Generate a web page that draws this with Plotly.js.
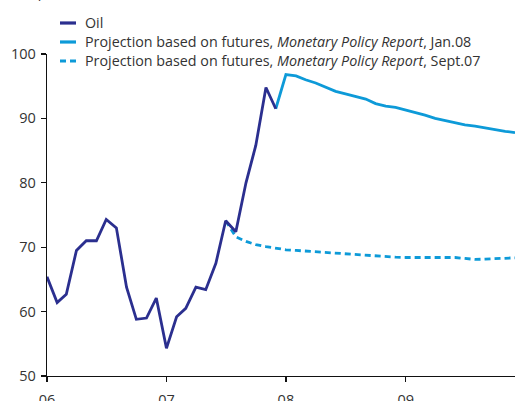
<!DOCTYPE html>
<html>
<head>
<meta charset="utf-8">
<script src="https://cdn.plot.ly/plotly-3.0.1.min.js"></script>
<style>html,body{margin:0;padding:0;background:#fff;}#chart{width:520px;height:401px;}</style>
</head>
<body>
<div id="chart"></div>
<script>
// Monthly values, US dollars per barrel
var oilStart = '2006-01';
var oil = [65.4, 61.4, 62.7, 69.5, 71.0, 71.0, 74.3, 73.0, 63.8, 58.8, 59.0, 62.1,
           54.3, 59.2, 60.5, 63.8, 63.4, 67.5, 74.1, 72.4, 80.0, 85.8, 94.8, 91.5];

var projJanStart = '2007-12';
var projJan = [91.5, 96.8, 96.6, 96.0, 95.5, 94.8, 94.2, 93.8, 93.4, 93.0, 92.3, 91.9, 91.7,
               91.3, 90.9, 90.5, 90.0, 89.65, 89.4, 89.0, 88.8, 88.5, 88.2, 88.0, 87.8];

var projSepStart = '2007-07';
var projSep = [74.1, 71.6, 70.9, 70.4, 70.1, 69.8, 69.6, 69.5, 69.4, 69.25, 69.1, 69.0,
               68.9, 68.8, 68.7, 68.6, 68.5, 68.45, 68.4, 68.4, 68.45, 68.5, 68.5, 68.4,
               68.25, 68.1, 68.15, 68.25, 68.3, 68.35];

var names = ['Oil',
  'Projection based on futures, <i>Monetary Policy Report</i>, Jan.08',
  'Projection based on futures, <i>Monetary Policy Report</i>, Sept.07'];
var yTicks = [50, 60, 70, 80, 90, 100];
var unitLabel = '(USD per barrel)';

function months(start, n) {
  var p = start.split('-'), y = +p[0], m = +p[1], out = [];
  for (var i = 0; i < n; i++) {
    out.push(y + '-' + (m < 10 ? '0' : '') + m + '-01');
    m++; if (m > 12) { m = 1; y++; }
  }
  return out;
}

var navy = '#2b2f8f', light = '#0d9ad8';
var styles = [
  {color: navy, width: 2.8},
  {color: light, width: 2.8},
  {color: light, width: 2.8, dash: '6px,4px'}
];
// drawn so that the oil line sits on top of the projections
var traces = [
  {x: months(projSepStart, projSep.length), y: projSep, name: names[2], type: 'scatter', mode: 'lines', line: styles[2]},
  {x: months(projJanStart, projJan.length), y: projJan, name: names[1], type: 'scatter', mode: 'lines', line: styles[1]},
  {x: months(oilStart, oil.length), y: oil, name: names[0], type: 'scatter', mode: 'lines', line: styles[0]}
];

// plot area geometry (px) used to place the legend in paper coords
var PL = 47, PW = 468, PB = 376, PH = 322;
function px(x) { return (x - PL) / PW; }
function py(y) { return (PB - y) / PH; }

var shapes = [], annotations = [];
var rowY = [23, 42, 61];
for (var i = 0; i < names.length; i++) {
  shapes.push({type: 'line', xref: 'paper', yref: 'paper', x0: px(60), x1: px(76), y0: py(rowY[i]), y1: py(rowY[i]),
               line: {color: styles[i].color, width: 3.2, dash: i === 2 ? '6px,4px' : 'solid'}});
  annotations.push({text: names[i], xref: 'paper', yref: 'paper', x: px(83), xanchor: 'left',
                    y: py(rowY[i]), yanchor: 'middle', showarrow: false, font: {size: 14.3, color: '#333'}});
}
annotations.push({text: unitLabel, xref: 'paper', yref: 'paper', x: px(0), xanchor: 'left',
                  y: py(3), yanchor: 'bottom', showarrow: false, font: {size: 14, color: '#333'}});

var layout = {
  width: 520, height: 401,
  margin: {l: PL, r: 5, t: 54, b: 25, autoexpand: false},
  paper_bgcolor: '#fff', plot_bgcolor: '#fff',
  font: {family: 'Open Sans, Noto Sans, sans-serif', size: 14, color: '#333'},
  showlegend: false,
  xaxis: {type: 'date', range: ['2006-01-01', '2009-12-01'], tick0: '2006-01-01', dtick: 'M12',
          tickformat: '%y', ticks: 'outside', ticklen: 5, tickwidth: 1.2, tickcolor: '#111',
          showline: true, linecolor: '#111', linewidth: 1.3, showgrid: false, zeroline: false,
          ticklabelstandoff: 5, tickfont: {size: 14.5, color: '#333'}},
  yaxis: {range: [50, 100], tickvals: yTicks, ticks: 'outside', ticklen: 5, tickwidth: 1.2,
          tickcolor: '#111', showline: true, linecolor: '#111', linewidth: 1.3, showgrid: false,
          zeroline: false, ticklabelstandoff: 2, tickfont: {size: 14.5, color: '#333'}},
  shapes: shapes,
  annotations: annotations
};

Plotly.newPlot('chart', traces, layout, {displayModeBar: false, staticPlot: true});
</script>
</body>
</html>
